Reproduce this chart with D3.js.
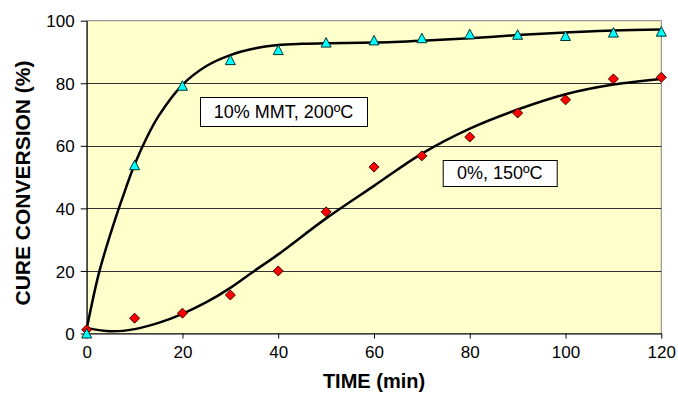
<!DOCTYPE html>
<html>
<head>
<meta charset="utf-8">
<script src="https://cdn.jsdelivr.net/npm/d3@7"></script>
<style>
  html, body { margin: 0; padding: 0; background: #fff; }
  svg { display: block; font-family: "Liberation Sans", Arial, sans-serif; }
</style>
</head>
<body>
<svg id="chart" width="678" height="393"></svg>
<script>
// ---- data ----
const timeCats = [0, 10, 20, 30, 40, 50, 60, 70, 80, 90, 100, 110, 120];
const mmtValues = [0, 53.8, 79.2, 87.4, 90.6, 93.0, 93.7, 94.4, 95.7, 95.5, 95.1, 96.2, 96.5];
const neatValues = [1.2, 4.9, 6.5, 12.3, 20.0, 38.9, 53.2, 56.8, 62.8, 70.5, 74.7, 81.4, 81.9];

// trendlines
const mmtFitX = [0, 2.5, 5, 7.5, 10, 12.5, 15, 20, 25, 30, 35, 40, 45, 50, 60, 70, 80, 90, 100, 110, 120];
const mmtFitY = [1.5, 19, 32, 43.5, 54, 62.5, 69.5, 79.5, 85.5, 89, 91.1, 92.2, 92.6, 92.8, 93, 93.6, 94.4, 95.4, 96.2, 96.9, 97.2];
const neatFitX = [0, 5, 10, 15, 20, 25, 30, 35, 40, 50, 60, 70, 80, 90, 100, 110, 120];
const neatFitY = [1.8, 0.7, 1.4, 3.4, 6.3, 10, 14.6, 20, 25.3, 36.8, 47.2, 57.5, 65.5, 71.6, 76.5, 79.6, 81.4];

const xTicks = [0, 20, 40, 60, 80, 100, 120];
const yTicks = [0, 20, 40, 60, 80, 100];
const labelMMT = "10% MMT, 200ºC";
const labelNeat = "0%, 150ºC";
const xTitle = "TIME (min)";
const yTitle = "CURE CONVERSION (%)";

// ---- layout ----
const L = 86.7, R = 661.3, T = 20.7, B = 333.5;
const svg = d3.select("#chart");
const x = d3.scaleLinear().domain([0, 120]).range([L, R]);
const y = d3.scaleLinear().domain([0, 100]).range([B, T]);

// plot background
svg.append("rect").attr("x", L).attr("y", T).attr("width", R - L).attr("height", B - T)
  .attr("fill", "#FFFFCC").attr("stroke", "#808080").attr("stroke-width", 1);

// gridlines
svg.append("g").selectAll("line").data(yTicks.filter(d => d > 0 && d < 100)).join("line")
  .attr("x1", L).attr("x2", R)
  .attr("y1", d => Math.round(y(d)) + 0.5).attr("y2", d => Math.round(y(d)) + 0.5)
  .attr("stroke", "#333").attr("stroke-width", 1);

// axes
const xAxis = svg.append("g").attr("transform", `translate(0,${B})`)
  .call(d3.axisBottom(x).tickValues(xTicks).tickSize(5).tickPadding(4).tickSizeOuter(0));
const yAxis = svg.append("g").attr("transform", `translate(${L},0)`)
  .call(d3.axisLeft(y).tickValues(yTicks).tickSize(6).tickPadding(6).tickSizeOuter(0));
[xAxis, yAxis].forEach(g => {
  g.select(".domain").attr("stroke", "#000");
  g.selectAll(".tick line").attr("stroke", "#000");
  g.selectAll(".tick text").attr("fill", "#000").style("font-size", "17px")
    .style("font-family", '"Liberation Sans", Arial, sans-serif');
});
xAxis.selectAll(".tick text").attr("dy", "0.9em");
yAxis.selectAll(".tick text").attr("dy", "0.36em");

// trendlines
const line = d3.line().x(d => x(d[0])).y(d => y(d[1])).curve(d3.curveCatmullRom.alpha(0.5));
svg.append("path").datum(mmtFitX.map((v, i) => [v, mmtFitY[i]]))
  .attr("d", line).attr("fill", "none").attr("stroke", "#000").attr("stroke-width", 2.5);
svg.append("path").datum(neatFitX.map((v, i) => [v, neatFitY[i]]))
  .attr("d", line).attr("fill", "none").attr("stroke", "#000").attr("stroke-width", 2.5);

// markers
svg.append("g").selectAll("path").data(timeCats.map((t, i) => [t, neatValues[i]])).join("path")
  .attr("transform", d => `translate(${x(d[0])},${y(d[1])})`)
  .attr("d", "M0,-5L5,0L0,5L-5,0Z")
  .attr("fill", "#FF0000").attr("stroke", "#400000").attr("stroke-width", 1);
svg.append("g").selectAll("path").data(timeCats.map((t, i) => [t, mmtValues[i]])).join("path")
  .attr("transform", d => `translate(${x(d[0])},${y(d[1])})`)
  .attr("d", "M0,-5L5,4.5L-5,4.5Z")
  .attr("fill", "#00FFFF").attr("stroke", "#003333").attr("stroke-width", 1);

// annotation boxes
function box(cx, cy, w, h, txt) {
  const g = svg.append("g");
  g.append("rect").attr("x", cx - w / 2 + 0.5).attr("y", cy - h / 2 + 0.5).attr("width", w).attr("height", h)
    .attr("fill", "#fff").attr("stroke", "#000").attr("stroke-width", 1);
  g.append("text").attr("x", cx).attr("y", cy).attr("dy", "0.36em").attr("text-anchor", "middle")
    .style("font-size", "18px").attr("fill", "#000").text(txt);
}
box(283.5, 111.5, 167, 29, labelMMT);
box(499.7, 173, 114, 26, labelNeat);

// axis titles
svg.append("text").attr("x", 374).attr("y", 388).attr("text-anchor", "middle")
  .style("font-size", "20px").style("font-weight", "bold").text(xTitle);
svg.append("text").attr("transform", "translate(30,183) rotate(-90)").attr("text-anchor", "middle")
  .style("font-size", "21px").style("font-weight", "bold").text(yTitle);
</script>
</body>
</html>
